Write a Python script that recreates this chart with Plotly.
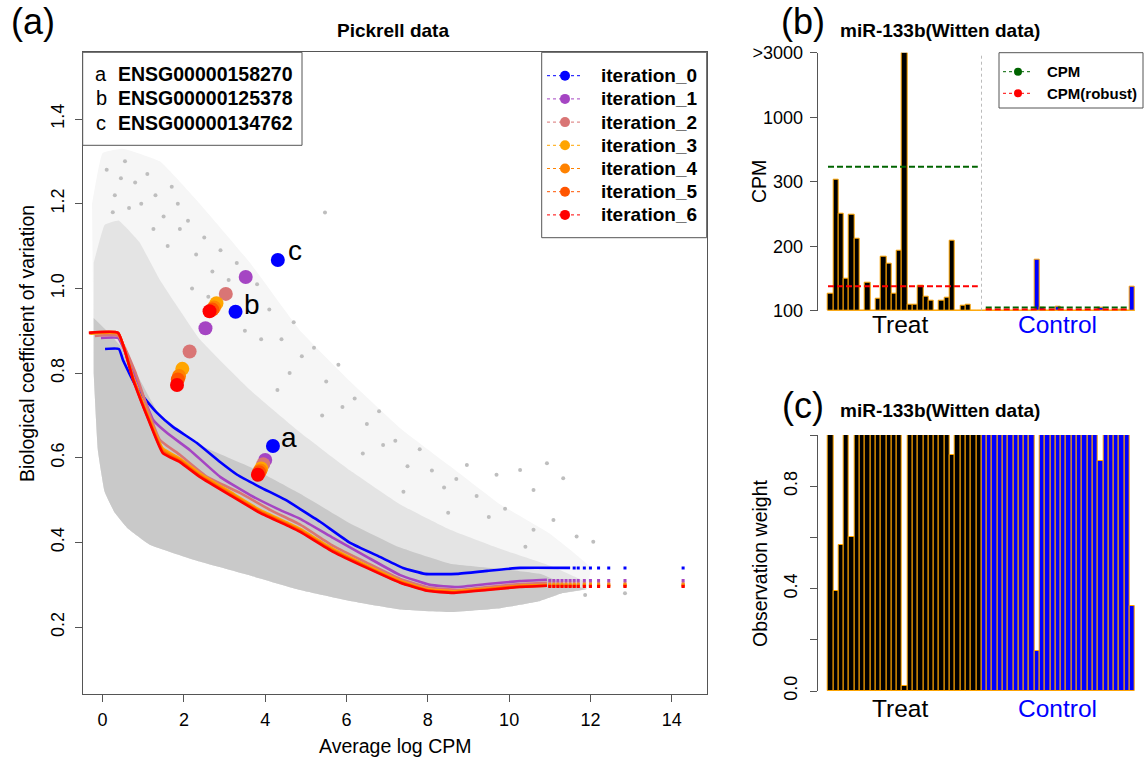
import numpy as np
import plotly.graph_objects as go

W, H = 1146, 760
FONT = "Liberation Sans, Arial, Helvetica, sans-serif"

# ---------------- Panel (a): Pickrell data ----------------
iteration_names = ["iteration_0", "iteration_1", "iteration_2", "iteration_3",
                   "iteration_4", "iteration_5", "iteration_6"]
iteration_colors = ["#0000FF", "#A545C3", "#D97575", "#FFA500", "#FF8200", "#FF5500", "#FF0000"]

trend0_x = [0.06, 0.40, 0.50, 0.87, 1.34, 1.73, 2.32, 2.89, 3.31, 3.87, 4.49, 4.86, 5.35, 6.09, 6.82, 7.39, 7.93, 8.72, 9.46, 10.27, 11.5]
trend0_y = [0.857, 0.857, 0.831, 0.760, 0.706, 0.673, 0.635, 0.590, 0.560, 0.531, 0.501, 0.479, 0.449, 0.399, 0.366, 0.340, 0.326, 0.326, 0.333, 0.340, 0.340]
trend1_x = [-0.04, 0.38, 0.50, 0.87, 1.24, 1.58, 2.15, 2.89, 3.63, 4.36, 4.86, 5.67, 6.50, 7.32, 8.05, 8.72, 9.46, 10.27, 10.93]
trend1_y = [0.883, 0.883, 0.862, 0.777, 0.690, 0.659, 0.618, 0.555, 0.512, 0.477, 0.456, 0.411, 0.366, 0.323, 0.300, 0.295, 0.302, 0.309, 0.312]
trend2_x = [-0.19, 0.38, 0.80, 1.16, 1.41, 1.90, 2.57, 3.38, 4.12, 4.86, 5.67, 6.50, 7.32, 8.05, 8.72, 9.46, 10.27, 10.93]
trend2_y = [0.888, 0.888, 0.803, 0.701, 0.642, 0.607, 0.555, 0.517, 0.477, 0.442, 0.392, 0.352, 0.314, 0.293, 0.288, 0.295, 0.302, 0.305]
trend3_x = [-0.30, 0.38, 0.75, 1.16, 1.48, 1.90, 2.39, 3.13, 3.87, 4.61, 4.86, 5.67, 6.50, 7.32, 7.98, 8.62, 9.46, 10.27, 10.93]
trend3_y = [0.893, 0.893, 0.790, 0.690, 0.622, 0.598, 0.563, 0.520, 0.477, 0.444, 0.432, 0.385, 0.346, 0.310, 0.290, 0.285, 0.291, 0.298, 0.300]
trend4_x = [-0.32, 0.38, 0.75, 1.16, 1.48, 1.90, 2.39, 3.13, 3.87, 4.61, 4.86, 5.67, 6.50, 7.32, 7.98, 8.62, 9.46, 10.27, 10.93]
trend4_y = [0.894, 0.894, 0.788, 0.687, 0.618, 0.595, 0.560, 0.517, 0.474, 0.441, 0.429, 0.382, 0.343, 0.308, 0.288, 0.283, 0.290, 0.297, 0.299]
trend5_x = [-0.33, 0.38, 0.75, 1.16, 1.48, 1.90, 2.39, 3.13, 3.87, 4.61, 4.86, 5.67, 6.50, 7.32, 7.98, 8.62, 9.46, 10.27, 10.93]
trend5_y = [0.895, 0.895, 0.786, 0.684, 0.614, 0.592, 0.557, 0.514, 0.472, 0.439, 0.427, 0.380, 0.342, 0.306, 0.287, 0.282, 0.289, 0.296, 0.298]
trend6_x = [-0.34, 0.38, 0.75, 1.16, 1.48, 1.90, 2.39, 3.13, 3.87, 4.61, 4.86, 5.67, 6.50, 7.32, 7.98, 8.62, 9.46, 10.27, 10.93]
trend6_y = [0.895, 0.895, 0.784, 0.682, 0.611, 0.590, 0.555, 0.512, 0.470, 0.437, 0.425, 0.378, 0.340, 0.305, 0.286, 0.281, 0.288, 0.295, 0.298]

# sparse high-abundance genes: trend values continue at constant level
tail_x_blue = [11.6, 11.7, 11.85, 12.0, 12.2, 12.45, 12.85, 14.28]
tail_x_other = [11.0, 11.1, 11.2, 11.3, 11.4, 11.5, 11.6, 11.7, 11.85, 12.0, 12.2, 12.45, 12.85, 14.28]
tail_level = [0.340, 0.310, 0.304, 0.300, 0.299, 0.297, 0.296]

# highlighted genes (one point per iteration)
gene_labels = ["a", "b", "c"]
gene_ids = ["ENSG00000158270", "ENSG00000125378", "ENSG00000134762"]
gene_a_x = [4.19, 4.00, 3.95, 3.90, 3.88, 3.85, 3.82]
gene_a_y = [0.628, 0.595, 0.585, 0.575, 0.570, 0.566, 0.560]
gene_b_x = [3.27, 2.53, 2.14, 1.96, 1.88, 1.85, 1.83]
gene_b_y = [0.945, 0.906, 0.851, 0.810, 0.793, 0.785, 0.772]
gene_c_x = [4.31, 3.52, 3.03, 2.80, 2.74, 2.70, 2.63]
gene_c_y = [1.067, 1.027, 0.987, 0.965, 0.955, 0.950, 0.946]

# grey gene cloud, read as density envelopes
cloud_lower_x = [-0.22, -0.12, 0.05, 0.30, 0.60, 1.16, 2.39, 3.63, 4.86, 6.09, 7.32, 8.55, 9.78, 10.76, 11.3, 11.9]
cloud_lower_y = [0.80, 0.62, 0.52, 0.47, 0.435, 0.395, 0.355, 0.322, 0.288, 0.262, 0.242, 0.236, 0.245, 0.262, 0.280, 0.290]
dense_upper_x = [-0.22, 0.10, 0.43, 0.92, 1.41, 2.39, 3.63, 4.86, 6.09, 7.32, 8.55, 9.78, 10.76, 11.3]
dense_upper_y = [0.93, 0.90, 0.865, 0.784, 0.700, 0.630, 0.578, 0.515, 0.445, 0.388, 0.350, 0.338, 0.326, 0.305]
mid_upper_x = [-0.22, 0.05, 0.40, 0.90, 1.41, 2.39, 3.63, 4.86, 6.09, 7.32, 8.55, 9.78, 11.01, 11.9]
mid_upper_y = [1.06, 1.15, 1.16, 1.11, 1.02, 0.88, 0.76, 0.66, 0.57, 0.49, 0.43, 0.385, 0.345, 0.305]
outer_upper_x = [-0.26, 0.00, 0.50, 1.41, 2.39, 3.63, 4.86, 6.09, 7.32, 8.55, 9.78, 11.01, 12.0]
outer_upper_y = [1.20, 1.32, 1.33, 1.30, 1.20, 1.06, 0.90, 0.78, 0.67, 0.58, 0.49, 0.42, 0.34]

# isolated genes in the sparse upper part of the cloud
outlier_x = [0.10, 0.30, 0.55, 0.80, 0.25, 0.95, 0.65, 0.45,
             1.10, 1.30, 1.50, 1.70, 1.90, 1.25, 1.60, 1.85,
             2.10, 2.30, 2.50, 2.70, 2.90, 2.20, 2.60,
             3.10, 3.30, 3.60, 3.80, 3.50, 3.90,
             4.10, 4.40, 4.70, 4.60, 4.90, 4.30,
             5.20, 5.50, 5.80, 5.40, 5.90, 5.47,
             6.20, 6.50, 6.80, 6.40, 6.90,
             7.20, 7.50, 7.80, 7.40,
             8.10, 8.40, 8.70, 8.96, 8.50,
             9.20, 9.50, 9.69, 9.90,
             10.27, 10.60, 10.93, 11.33, 10.60, 11.09, 11.66, 12.07, 11.87, 12.85, 10.40]
outlier_y = [1.28, 1.22, 1.30, 1.25, 1.18, 1.20, 1.19, 1.26,
             1.27, 1.22, 1.17, 1.24, 1.14, 1.14, 1.10, 1.20,
             1.16, 1.08, 1.12, 1.04, 1.09, 1.00, 0.98,
             1.02, 1.06, 0.97, 1.01, 0.90, 0.88,
             0.95, 0.88, 0.92, 0.80, 0.84, 0.76,
             0.86, 0.78, 0.82, 0.70, 0.72, 1.179,
             0.74, 0.68, 0.71, 0.61, 0.63,
             0.64, 0.58, 0.62, 0.52,
             0.57, 0.53, 0.55, 0.583, 0.47,
             0.51, 0.46, 0.56, 0.48,
             0.571, 0.524, 0.587, 0.552, 0.430, 0.453, 0.414, 0.402, 0.276, 0.280, 0.39]

x_ticks_a = [0, 2, 4, 6, 8, 10, 12, 14]
y_ticks_a = [0.2, 0.4, 0.6, 0.8, 1.0, 1.2, 1.4]

# ---------------- Panels (b), (c): miR-133b (Witten data) ----------------
treat_cpm = [126, 320, 250, 150, 249, 212, 100, 144, 100, 119, 184, 173, 127, 193, 3000,
             110, 110, 139, 122, 116, 100, 116, 120, 209, 100, 108, 110, 100, 100]
control_cpm = [100, 103, 100, 100, 100, 100, 100, 100, 100, 100, 179, 104, 100, 100, 106,
               100, 100, 100, 100, 100, 100, 100, 104, 100, 100, 100, 102, 100, 137]
cpm_ticks = [100, 200, 300, 1000, 3000]
cpm_tick_labels = ["100", "200", "300", "1000", ">3000"]
cpm_mean = {"Treat": 461, "Control": 105}
cpm_robust = {"Treat": 138, "Control": 102}

treat_weight = [1, 0.39, 0.57, 1, 0.60, 1, 1, 1, 1, 1, 1, 1, 1, 1, 0.02,
                1, 1, 1, 1, 1, 1, 1, 1, 0.92, 1, 1, 1, 1, 1]
control_weight = [1, 1, 1, 1, 1, 1, 1, 1, 1, 1, 0.158, 1, 1, 1, 1,
                  1, 1, 1, 1, 1, 1, 1, 0.90, 1, 1, 1, 1, 1, 0.334]
weight_ticks = [0.0, 0.2, 0.4, 0.6, 0.8, 1.0]
weight_tick_labels = ["0.0", "", "0.4", "", "0.8", ""]

# ---------------- helpers ----------------
def px(x):
    return x / W

def py(y):
    return 1 - y / H

def cpm_pos(v):
    return np.interp(v, cpm_ticks, np.arange(len(cpm_ticks)))

fig = go.Figure()

# ---- panel (a)
def poly(upper_x, upper_y, lower_x, lower_y):
    xs = list(upper_x) + list(lower_x[::-1])
    ys = list(upper_y) + list(lower_y[::-1])
    return xs, ys

for ux, uy, col in [(outer_upper_x, outer_upper_y, "#F6F6F6"),
                    (mid_upper_x, mid_upper_y, "#E4E4E4"),
                    (dense_upper_x, dense_upper_y, "#C9C9C9")]:
    xs, ys = poly(ux, uy, cloud_lower_x, cloud_lower_y)
    fig.add_trace(go.Scatter(x=xs, y=ys, fill="toself", fillcolor=col, mode="lines",
                             line=dict(width=0, shape="spline", smoothing=0.3), hoverinfo="skip",
                             showlegend=False, xaxis="x", yaxis="y"))
fig.add_trace(go.Scatter(x=outlier_x, y=outlier_y, mode="markers",
                         marker=dict(color="#BEBEBE", size=4), showlegend=False,
                         xaxis="x", yaxis="y"))

trend_xs = [trend0_x, trend1_x, trend2_x, trend3_x, trend4_x, trend5_x, trend6_x]
trend_ys = [trend0_y, trend1_y, trend2_y, trend3_y, trend4_y, trend5_y, trend6_y]
for i in range(7):
    fig.add_trace(go.Scatter(x=trend_xs[i], y=trend_ys[i], mode="lines",
                             line=dict(color=iteration_colors[i], width=2.6, shape="spline", smoothing=0.4),
                             showlegend=False, xaxis="x", yaxis="y"))
    tx = tail_x_blue if i == 0 else tail_x_other
    fig.add_trace(go.Scatter(x=tx, y=[tail_level[i]] * len(tx), mode="markers",
                             marker=dict(color=iteration_colors[i], size=3, symbol="square"),
                             showlegend=False, xaxis="x", yaxis="y"))

for i in range(7):
    fig.add_trace(go.Scatter(x=[gene_a_x[i], gene_b_x[i], gene_c_x[i]],
                             y=[gene_a_y[i], gene_b_y[i], gene_c_y[i]], mode="markers",
                             marker=dict(color=iteration_colors[i], size=14),
                             showlegend=False, xaxis="x", yaxis="y"))

gene_text_pos = [(gene_a_x[0] + 0.39, gene_a_y[0] + 0.02),
                 (gene_b_x[0] + 0.40, gene_b_y[0] + 0.017),
                 (gene_c_x[0] + 0.42, gene_c_y[0] + 0.022)]

# ---- panel (b)
n_t, n_c = len(treat_cpm), len(control_cpm)
xb = np.arange(n_t + n_c)
all_cpm = treat_cpm + control_cpm
bar_colors = ["#000000"] * n_t + ["#0000FF"] * n_c
fig.add_trace(go.Scatter(x=[-0.5, n_t + n_c - 0.5], y=[0, 0], mode="lines",
                         line=dict(color="#FFA500", width=1.5), showlegend=False,
                         xaxis="x2", yaxis="y2"))
fig.add_trace(go.Bar(x=xb, y=cpm_pos(all_cpm), width=1, marker=dict(color=bar_colors,
                     line=dict(color="#FFA500", width=1)), showlegend=False,
                     xaxis="x2", yaxis="y2"))
fig.add_trace(go.Scatter(x=[n_t - 0.5, n_t - 0.5], y=[0, 4], mode="lines",
                         line=dict(color="#BBBBBB", width=1, dash="dot"), showlegend=False,
                         xaxis="x2", yaxis="y2"))
for grp, (a, b) in {"Treat": (-0.5, n_t - 1.2), "Control": (n_t + 0.3, n_t + n_c - 1.8)}.items():
    fig.add_trace(go.Scatter(x=[a, b], y=[cpm_pos(cpm_mean[grp])] * 2, mode="lines",
                             line=dict(color="#006400", width=2, dash="6px,3px"), showlegend=False,
                             xaxis="x2", yaxis="y2"))
    fig.add_trace(go.Scatter(x=[a, b], y=[cpm_pos(cpm_robust[grp])] * 2, mode="lines",
                             line=dict(color="#FF0000", width=2, dash="6px,3px"), showlegend=False,
                             xaxis="x2", yaxis="y2"))

# ---- panel (c)
fig.add_trace(go.Bar(x=xb, y=treat_weight + control_weight, width=1,
                     marker=dict(color=bar_colors, line=dict(color="#FFA500", width=1)),
                     showlegend=False, xaxis="x3", yaxis="y3"))

# ---- overlay (pixel coordinates) for legend boxes
def box(x0, y0, x1, y1):
    fig.add_trace(go.Scatter(x=[x0, x1, x1, x0, x0], y=[y0, y0, y1, y1, y0], mode="lines",
                             fill="toself", fillcolor="white", line=dict(color="#555555", width=1),
                             showlegend=False, hoverinfo="skip", xaxis="x4", yaxis="y4"))

box(82.7, 52.3, 302, 145.3)
box(541.7, 52.3, 706.7, 237.7)
box(999, 52.7, 1143, 108)

annotations = []
for k in range(7):
    yy = 75.7 + k * 23.2
    fig.add_trace(go.Scatter(x=[547, 583], y=[yy, yy], mode="lines",
                             line=dict(color=iteration_colors[k], width=1, dash="dot"),
                             showlegend=False, xaxis="x4", yaxis="y4"))
    fig.add_trace(go.Scatter(x=[565], y=[yy], mode="markers",
                             marker=dict(color=iteration_colors[k], size=10),
                             showlegend=False, xaxis="x4", yaxis="y4"))
    annotations.append(dict(x=px(599), y=py(yy), xref="paper", yref="paper", xanchor="left",
                            yanchor="middle", showarrow=False, text="<b>%s</b>" % iteration_names[k],
                            font=dict(size=19, color="black", family=FONT)))

for k, (lab, col) in enumerate([("CPM", "#006400"), ("CPM(robust)", "#FF0000")]):
    yy = 71.7 + k * 21.6
    fig.add_trace(go.Scatter(x=[1003, 1031], y=[yy, yy], mode="lines",
                             line=dict(color=col, width=1, dash="dot"),
                             showlegend=False, xaxis="x4", yaxis="y4"))
    fig.add_trace(go.Scatter(x=[1018], y=[yy], mode="markers", marker=dict(color=col, size=8),
                             showlegend=False, xaxis="x4", yaxis="y4"))
    annotations.append(dict(x=px(1045), y=py(yy), xref="paper", yref="paper", xanchor="left",
                            yanchor="middle", showarrow=False, text="<b>%s</b>" % lab,
                            font=dict(size=15, color="black", family=FONT)))

for k in range(3):
    yy = 74 + k * 24.3
    annotations.append(dict(x=px(101), y=py(yy), xref="paper", yref="paper", xanchor="center",
                            yanchor="middle", showarrow=False, text=gene_labels[k],
                            font=dict(size=20, color="black", family=FONT)))
    annotations.append(dict(x=px(116), y=py(yy), xref="paper", yref="paper", xanchor="left",
                            yanchor="middle", showarrow=False, text="<b>%s</b>" % gene_ids[k],
                            font=dict(size=19.5, color="black", family=FONT)))

for k in range(3):
    annotations.append(dict(x=gene_text_pos[k][0], y=gene_text_pos[k][1], xref="x", yref="y",
                            showarrow=False, text=gene_labels[k],
                            font=dict(size=28, color="black", family=FONT)))

def txt(x, y, t, size, color="black", angle=0, anchor="center"):
    annotations.append(dict(x=px(x), y=py(y), xref="paper", yref="paper", xanchor=anchor,
                            yanchor="middle", showarrow=False, text=t, textangle=angle,
                            font=dict(size=size, color=color, family=FONT)))

txt(33, 21, "(a)", 36)
txt(393, 30, "<b>Pickrell data</b>", 19)
txt(803, 21, "(b)", 36)
txt(940, 30, "<b>miR-133b(Witten data)</b>", 19)
txt(803, 405, "(c)", 36)
txt(940, 410, "<b>miR-133b(Witten data)</b>", 19)
txt(395, 746, "Average log CPM", 19.5)
txt(27, 344, "Biological coefficient of variation", 19.5, angle=-90)
txt(759, 182, "CPM", 19.5, angle=-90)
txt(760, 563, "Observation weight", 19.5, angle=-90)
txt(900, 325, "Treat", 24.5)
txt(1057, 325, "Control", 24.5, color="#0000FF")
txt(900, 708, "Treat", 24.5)
txt(1057, 708, "Control", 24.5, color="#0000FF")

axis_common = dict(showgrid=False, zeroline=False, linecolor="#555555", linewidth=1,
                   ticks="outside", ticklen=7, tickcolor="#555555", automargin=False,
                   tickfont=dict(size=18, family=FONT, color="black"))

bar_unit = (1135 - 828) / 58.0
xb_left = -0.5 - (828 - 817.7) / bar_unit
xb_right = xb_left + (1143 - 817.7) / bar_unit

fig.update_layout(
    width=W, height=H, autosize=False, margin=dict(l=0, r=0, t=0, b=0, pad=0, autoexpand=False),
    paper_bgcolor="white", plot_bgcolor="rgba(0,0,0,0)", bargap=0, showlegend=False,
    font=dict(family=FONT),
    xaxis=dict(domain=[px(82.7), px(706.7)], range=[-0.49, 14.86], tickvals=x_ticks_a,
               showline=True, mirror=True, anchor="y", ticklabelstandoff=3, **axis_common),
    yaxis=dict(domain=[py(693.7), py(52.3)], range=[0.043, 1.5575], tickvals=y_ticks_a,
               ticktext=["%.1f" % v for v in y_ticks_a], tickangle=-90,
               showline=True, mirror=True, anchor="x", ticklabelstandoff=4, **axis_common),
    xaxis2=dict(domain=[px(817.7), px(1143)], range=[xb_left, xb_right], visible=False,
                anchor="y2", automargin=False),
    yaxis2=dict(domain=[py(310.7), py(52.7)], range=[0, 4], tickvals=list(range(5)),
                ticktext=cpm_tick_labels, showline=True, anchor="x2", ticklabelstandoff=3, **axis_common),
    xaxis3=dict(domain=[px(817.7), px(1143)], range=[xb_left, xb_right], visible=False,
                anchor="y3", automargin=False),
    yaxis3=dict(domain=[py(691), py(435)], range=[0, 1], tickvals=weight_ticks,
                ticktext=weight_tick_labels, tickangle=-90, showline=True, anchor="x3",
                ticklabelstandoff=6, **axis_common),
    xaxis4=dict(domain=[0, 1], range=[0, W], visible=False, anchor="y4", automargin=False),
    yaxis4=dict(domain=[0, 1], range=[H, 0], visible=False, anchor="x4", automargin=False),
    annotations=annotations,
)

fig.write_html("out.html", config={"displayModeBar": False, "responsive": False},
               post_script="document.body.style.margin='0';")
